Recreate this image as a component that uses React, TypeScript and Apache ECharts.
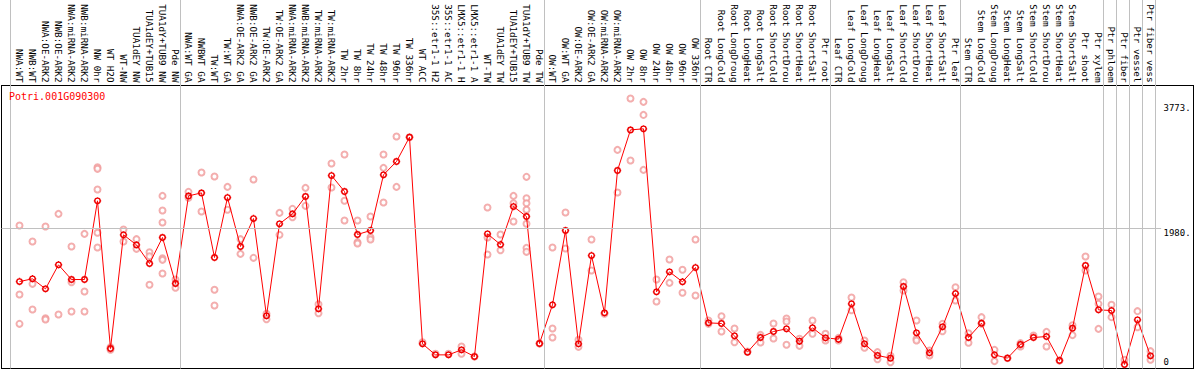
import React, { useEffect, useRef } from "react";
import * as echarts from "echarts";

const title = "Potri.001G090300";

// sample names as printed on the chart (cut to 14 characters)
const categories = [
  "NWA:WT", "NWB:WT", "NWA:OE-ARK2", "NWB:OE-ARK2", "NWA:miRNA-ARK2", "NWB:miRNA-ARK2",
  "NW 0hr", "WT H2O", "WT-NW", "TUA1dEY NW", "TUA1dEY+TUB15", "TUA1dY+TUB9 NW", "Pde NW",
  "NWA:WT GA", "NWBWT GA", "TW:WT", "TW:WT GA", "NWA:OE-ARK2 GA", "NWB:OE-ARK2 GA",
  "TW:OE-ARK2", "TW:OE-ARK2 GA", "NWA:miRNA-ARK2", "NWB:miRNA-ARK2", "TW:miRNA-ARK2",
  "TW:miRNA-ARK2", "TW 2hr", "TW 8hr", "TW 24hr", "TW 48hr", "TW 96hr", "TW 336hr",
  "WT ACC", "35S::etr1-1 H2", "35S::etr1-1 AC", "LMX5::etr1-1 H", "LMX5::etr1-1 A",
  "WT-TW", "TUA1dEY TW", "TUA1dEY+TUB15", "TUA1dY+TUB9 TW", "Pde TW",
  "OW:WT", "OW:WT GA", "OW:OE-ARK2", "OW:OE-ARK2 GA", "OW:miRNA-ARK2", "OW:miRNA-ARK2",
  "OW 2hr", "OW 8hr", "OW 24hr", "OW 48hr", "OW 96hr", "OW 336hr",
  "Root CTR", "Root LongCold", "Root LongDroug", "Root LongHeat", "Root LongSalt",
  "Root ShortCold", "Root ShortDrou", "Root ShortHeat", "Root ShortSalt", "Ptr root",
  "Leaf CTR", "Leaf LongCold", "Leaf LongDroug", "Leaf LongHeat", "Leaf LongSalt",
  "Leaf ShortCold", "Leaf ShortDrou", "Leaf ShortHeat", "Leaf ShortSalt", "Ptr leaf",
  "Stem CTR", "Stem LongCold", "Stem LongDroug", "Stem LongHeat", "Stem LongSalt",
  "Stem ShortCold", "Stem ShortDrou", "Stem ShortHeat", "Stem ShortSalt",
  "Ptr shoot", "Ptr xylem", "Ptr phloem", "Ptr fiber", "Ptr vessel", "Ptr fiber vess",
];

const means = [
  1219, 1258, 1114, 1459, 1248, 1248, 2377, 258, 1889, 1745,
  1478, 1851, 1191, 2448, 2491, 1564, 2424, 1722, 2123, 727,
  2047, 2190, 2439, 827, 2740, 2511, 1894, 1951, 2750, 2941,
  3290, 325, 167, 167, 239, 143, 1903, 1750, 2295, 2152,
  330, 885, 1951, 325, 1592, 770, 2812, 3395, 3410, 1071,
  1358, 1215, 1420, 626, 617, 440, 206, 416, 502, 540,
  363, 555, 411, 392, 899, 325, 158, 120, 1148, 483,
  196, 569, 1047, 416, 622, 167, 120, 316, 416, 430,
  86, 550, 1449, 813, 803, 29, 669, 153,
];

const replicates = [
  [2023, 1033, 612], [1793, 1186, 818], [2008, 693, 674], [2190, 746], [1722, 1210, 789],
  [1903, 1076, 789], [2860, 2836, 2539, 1918, 1707], [277, 240], [1965, 1793], [1827, 1688],
  [1640, 1583, 1172], [2448, 2238, 2066, 1554, 1530, 1334], [1248, 1129], [2506, 2420], [2783, 2224],
  [2726, 1100, 875], [2577, 2248], [1827, 1616], [2683, 1559], [756, 679],
  [2204, 1889], [2262, 2142], [2563, 2305], [894, 765], [2912, 2568],
  [3041, 2377, 2095], [2095, 1784, 1765], [2152, 1855, 1822], [3041, 2850, 2353], [3300, 2577],
  [3290], [349], [182], [182], [287, 182],
  [143], [2281, 1851, 1607], [1894, 1669], [2448, 2343, 2080], [2721, 2415, 2343, 2248, 2047, 1702, 1645],
  [330], [1707, 545, 416], [2209, 1693], [383, 282], [1822, 1377],
  [756], [3108, 2496], [3845, 2955], [3797, 3610, 2821], [1248, 932],
  [1535, 1200], [1387, 1057], [1822, 1019], [660, 612], [722, 502],
  [545, 349], [215], [454, 344], [617, 402], [689, 646, 311],
  [397, 296], [660, 469], [469, 373], [411, 373], [990, 808],
  [373, 268], [206, 105], [153, 62], [1210, 1090], [660, 397, 373],
  [230, 158], [612, 507], [1138, 947], [478, 340], [708, 612],
  [239, 77], [120], [335, 287], [445], [497, 287],
  [86], [593, 450], [1578, 1377], [1004, 899, 540], [885, 708],
  [96], [794, 564], [220, 96],
];

// category index at which a new group begins (vertical separators)
const groupStarts = [0, 13, 41, 53, 63, 73, 84, 85, 86, 87, 88];
const yTickValues = [0, 1980, 3773];
const yGridValue = 1980;

const FONT = "'DejaVu Sans Mono', monospace";
const X_MIN = -1.3846;
const X_MAX = 90.3077;
const Y_MIN = -28.7;
const Y_MAX_A = 5258.5;
const Y_MAX_B = 4031.8;

const CIRCLE =
  "M0,-2.7C1.491,-2.7,2.7,-1.491,2.7,0C2.7,1.491,1.491,2.7,0,2.7C-1.491,2.7,-2.7,1.491,-2.7,0C-2.7,-1.491,-1.491,-2.7,0,-2.7Z";
const MEAN_MARK = "path://" + CIRCLE + "M0,-3.7L0,-2.7M0,2.7L0,3.7M-3.7,0L-2.7,0M2.7,0L3.7,0";

export default function App() {
  const ref = useRef<HTMLDivElement>(null);

  useEffect(() => {
    if (!ref.current) return;
    const chart = echarts.init(ref.current, undefined, { renderer: "svg" });

    const repData: number[][] = [];
    replicates.forEach((vals, i) => vals.forEach((v) => repData.push([i, v])));

    const frameLine = { show: true, onZero: false, lineStyle: { color: "#000", width: 1 } };

    const option: any = {
      animation: false,
      title: {
        text: title,
        left: 9,
        top: 91,
        padding: 0,
        textStyle: { color: "#ff0000", fontSize: 10, fontFamily: FONT, fontWeight: "normal" },
      },
      grid: [
        { left: 1.5, right: 0.5, top: 0, bottom: 1.5, containLabel: false, outerBoundsMode: "none" },
        { left: 1.5, right: 0.5, top: 85.5, bottom: 1.5, containLabel: false, outerBoundsMode: "none" },
      ],
      xAxis: [
        { type: "value", gridIndex: 0, min: X_MIN, max: X_MAX, show: false },
        {
          type: "value",
          gridIndex: 1,
          min: X_MIN,
          max: X_MAX,
          position: "top",
          axisLine: frameLine,
          axisTick: { show: false },
          splitLine: { show: false },
          axisLabel: {
            customValues: categories.map((_, i) => i),
            formatter: (v: number) => categories[Math.round(v)] ?? "",
            rotate: 90,
            margin: 3,
            fontSize: 9.3,
            fontFamily: FONT,
            color: "#000",
            hideOverlap: false,
          },
        },
        {
          type: "value",
          gridIndex: 1,
          min: X_MIN,
          max: X_MAX,
          position: "bottom",
          axisLine: frameLine,
          axisTick: { show: false },
          axisLabel: { show: false },
          splitLine: { show: false },
        },
      ],
      yAxis: [
        { type: "value", gridIndex: 0, min: Y_MIN, max: Y_MAX_A, show: false },
        {
          type: "value",
          gridIndex: 1,
          min: Y_MIN,
          max: Y_MAX_B,
          position: "right",
          axisLine: frameLine,
          axisTick: { show: false },
          splitLine: { show: false },
          axisLabel: {
            inside: true,
            margin: 30,
            align: "left",
            customValues: yTickValues,
            formatter: (v: number) => (v === 0 ? "{u|0}" : "{d|" + v + ".}"),
            rich: {
              d: { fontSize: 9, fontFamily: FONT, color: "#000", padding: [9, 0, 0, 0] },
              u: { fontSize: 9, fontFamily: FONT, color: "#000", padding: [0, 0, 9, 0] },
            },
          },
        },
        {
          type: "value",
          gridIndex: 1,
          min: Y_MIN,
          max: Y_MAX_B,
          position: "left",
          axisLine: frameLine,
          axisTick: { show: false },
          axisLabel: { show: false },
          splitLine: { show: false },
        },
      ],
      series: [
        {
          type: "scatter",
          xAxisIndex: 0,
          yAxisIndex: 0,
          data: repData,
          symbol: "emptyCircle",
          symbolSize: 6,
          itemStyle: { color: "#f09a9a", borderColor: "#f09a9a", borderWidth: 1 },
          z: 2,
          silent: true,
          markLine: {
            silent: true,
            symbol: "none",
            label: { show: false },
            lineStyle: { color: "#c0c0c0", width: 1, type: "solid" },
            data: [
              ...groupStarts.map((s) => ({ xAxis: s - (s === 0 ? 0.69 : 0.615) })),
              [{ coord: [X_MIN, yGridValue] }, { coord: [87.82, yGridValue] }],
            ],
          },
        },
        {
          type: "line",
          xAxisIndex: 0,
          yAxisIndex: 0,
          data: means.map((v, i) => [i, v]),
          symbol: MEAN_MARK,
          symbolSize: 7.4,
          showAllSymbol: true,
          lineStyle: { color: "#ff0000", width: 1 },
          itemStyle: { color: "rgba(255,255,255,0)", borderColor: "#ee0000", borderWidth: 1.4 },
          z: 3,
          silent: true,
        },
      ],
    };

    chart.setOption(option);
    return () => chart.dispose();
  }, []);

  return (
    <div
      ref={ref}
      style={{ position: "absolute", left: 0, top: 0, width: 1194, height: 370, background: "#fff" }}
    />
  );
}
